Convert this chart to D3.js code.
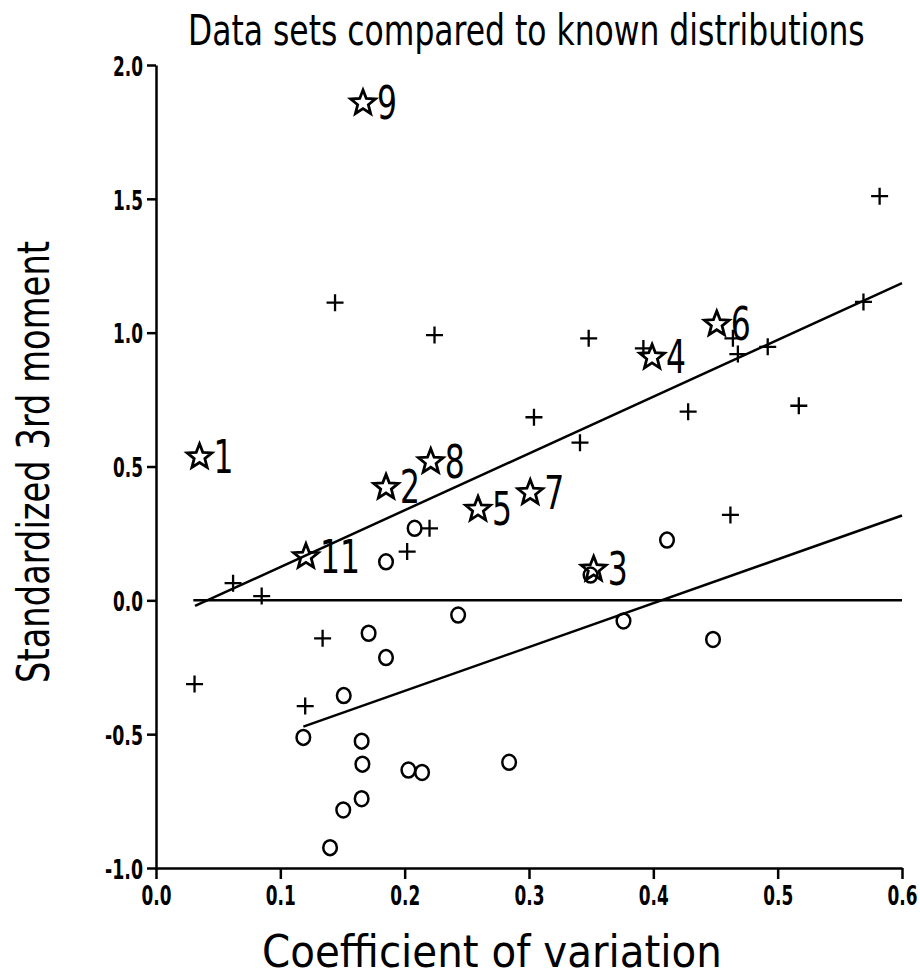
<!DOCTYPE html>
<html>
<head>
<meta charset="utf-8">
<script src="https://cdn.jsdelivr.net/npm/d3@7"></script>
<style>
  body { margin: 0; background: #fff; }
  svg { display: block; }
  .narrow { font-family: "Liberation Sans Narrow", "DejaVu Sans Condensed", "Liberation Sans", sans-serif; }
</style>
</head>
<body>
<div id="chart-area"></div>
<script>
// data
const xTicks = [0, 0.1, 0.2, 0.3, 0.4, 0.5, 0.6];
const yTicks = [-1, -0.5, 0, 0.5, 1, 1.5, 2];

// "+" markers
const plusPoints = [
  [0.031, -0.313], [0.062, 0.064], [0.085, 0.016], [0.120, -0.395],
  [0.134, -0.142], [0.144, 1.112], [0.202, 0.182], [0.220, 0.269],
  [0.224, 0.991], [0.304, 0.684], [0.341, 0.589], [0.348, 0.979],
  [0.392, 0.941], [0.428, 0.705], [0.462, 0.319], [0.464, 0.979],
  [0.468, 0.920], [0.492, 0.947], [0.517, 0.727], [0.569, 1.115],
  [0.582, 1.510]
];

// "o" markers
const circlePoints = [
  [0.1185, -0.512], [0.140, -0.924], [0.1506, -0.783], [0.151, -0.356],
  [0.1654, -0.526], [0.166, -0.612], [0.1654, -0.741], [0.171, -0.123],
  [0.185, -0.214], [0.185, 0.144], [0.203, -0.634], [0.208, 0.269],
  [0.214, -0.643], [0.243, -0.055], [0.284, -0.605], [0.3495, 0.0945],
  [0.376, -0.077], [0.411, 0.225], [0.448, -0.146]
];

// numbered data sets (stars)
const starLabels = ['1', '2', '3', '4', '5', '6', '7', '8', '9', '11'];
const starX = [0.035, 0.185, 0.352, 0.399, 0.259, 0.451, 0.301, 0.221, 0.1665, 0.1206];
const starY = [0.536, 0.422, 0.116, 0.908, 0.340, 1.032, 0.402, 0.518, 1.858, 0.163];

// reference lines
const zeroLine = [[0.030, 0], [0.6, 0]];
const upperFit = [[0.0314, -0.021], [0.6, 1.185]];
const lowerFit = [[0.1185, -0.472], [0.6, 0.317]];

const widthSvg = 920;
const heightSvg = 978;
const margin = { top: 65, right: 18, bottom: 110, left: 156 };
const widthChart = widthSvg - margin.left - margin.right;
const heightChart = heightSvg - margin.top - margin.bottom;

const svg = d3.select('#chart-area')
  .append('svg')
    .attr('width', widthSvg)
    .attr('height', heightSvg);

const chart = svg.append('g')
  .attr('transform', `translate(${margin.left}, ${margin.top})`);

const scaleX = d3.scaleLinear()
  .domain([0, 0.6])
  .range([0, widthChart]);

const scaleY = d3.scaleLinear()
  .domain([-1, 2])
  .range([heightChart, 0]);

// fit a text horizontally to a given width (the original font is narrow)
const squeeze = (node, width) => {
  const w = node.getComputedTextLength();
  const k = width / w;
  const x = +node.getAttribute('x') || 0;
  node.setAttribute('transform', `translate(${x * (1 - k)}, 0) scale(${k}, 1)`);
};

// plain hyphen for negatives, like the original plot
const fmt = d => d.toFixed(1);

const axisX = d3.axisBottom(scaleX)
  .tickValues(xTicks)
  .tickFormat(fmt)
  .tickSize(11)
  .tickSizeOuter(0)
  .tickPadding(7);

const axisY = d3.axisLeft(scaleY)
  .tickValues(yTicks)
  .tickFormat(fmt)
  .tickSize(9)
  .tickSizeOuter(0)
  .tickPadding(4);

const styleAxis = g => {
  g.selectAll('path, line')
    .attr('stroke', '#000')
    .attr('stroke-width', 2.5);
  g.selectAll('text')
    .attr('class', 'narrow')
    .attr('font-size', 27)
    .attr('font-weight', 'bold')
    .attr('fill', '#000')
    .each(function() { squeeze(this, this.textContent.length === 3 ? 30 : 38); });
  g.attr('font-family', null);
};

chart.append('g')
  .attr('transform', `translate(0, ${heightChart})`)
  .call(axisX)
  .call(styleAxis);

chart.append('g')
  .call(axisY)
  .call(styleAxis)
  .selectAll('text')
    .attr('dy', '0.38em');

// lines
const line = d3.line()
  .x(d => scaleX(d[0]))
  .y(d => scaleY(d[1]));

[zeroLine, upperFit, lowerFit].forEach(l => {
  chart.append('path')
    .attr('d', line(l))
    .attr('fill', 'none')
    .attr('stroke', '#000')
    .attr('stroke-width', 2.5);
});

// plus markers
const plusSize = 8.5;
chart.append('g')
  .selectAll('path')
  .data(plusPoints)
  .enter()
  .append('path')
    .attr('d', d => {
      const cx = scaleX(d[0]);
      const cy = scaleY(d[1]);
      return `M${cx - plusSize},${cy}H${cx + plusSize}M${cx},${cy - plusSize}V${cy + plusSize}`;
    })
    .attr('stroke', '#000')
    .attr('stroke-width', 2.3)
    .attr('fill', 'none');

// circle markers
chart.append('g')
  .selectAll('ellipse')
  .data(circlePoints)
  .enter()
  .append('ellipse')
    .attr('cx', d => scaleX(d[0]))
    .attr('cy', d => scaleY(d[1]))
    .attr('rx', 6.8)
    .attr('ry', 7.5)
    .attr('fill', 'none')
    .attr('stroke', '#000')
    .attr('stroke-width', 2.5);

// star markers with labels
const starData = starLabels.map((label, i) => ({ label, x: starX[i], y: starY[i] }));
const rOut = 13;
const rIn = 5.6;
const starPath = d3.range(10).map(i => {
  const a = -Math.PI / 2 + i * Math.PI / 5;
  const r = i % 2 === 0 ? rOut : rIn;
  return [r * Math.cos(a), r * Math.sin(a)];
});

const stars = chart.append('g')
  .selectAll('g')
  .data(starData)
  .enter()
  .append('g')
    .attr('transform', d => `translate(${scaleX(d.x)}, ${scaleY(d.y)})`);

stars.append('path')
  .attr('d', 'M' + starPath.join('L') + 'Z')
  .attr('fill', 'none')
  .attr('stroke', '#000')
  .attr('stroke-width', 2.8)
  .attr('stroke-linejoin', 'miter');

stars.append('text')
  .attr('class', 'narrow')
  .attr('x', 14)
  .attr('y', 16)
  .attr('font-size', 46)
  .text(d => d.label)
  .each(function(d) { squeeze(this, d.label.length * 20); });

// titles
svg.append('text')
  .attr('class', 'narrow')
  .attr('x', 188)
  .attr('y', 45)
  .attr('font-size', 43)
  .text('Data sets compared to known distributions')
  .each(function() { squeeze(this, 677); });

svg.append('text')
  .attr('class', 'narrow')
  .attr('x', 262)
  .attr('y', 967)
  .attr('font-size', 45)
  .text('Coefficient of variation')
  .each(function() { squeeze(this, 460); });

svg.append('text')
  .attr('transform', 'translate(49, 683) rotate(-90)')
  .attr('font-family', '"DejaVu Sans Condensed", "DejaVu Sans", sans-serif')
  .attr('font-size', 45)
  .attr('textLength', 442)
  .attr('lengthAdjust', 'spacingAndGlyphs')
  .text('Standardized 3rd moment');
</script>
</body>
</html>
